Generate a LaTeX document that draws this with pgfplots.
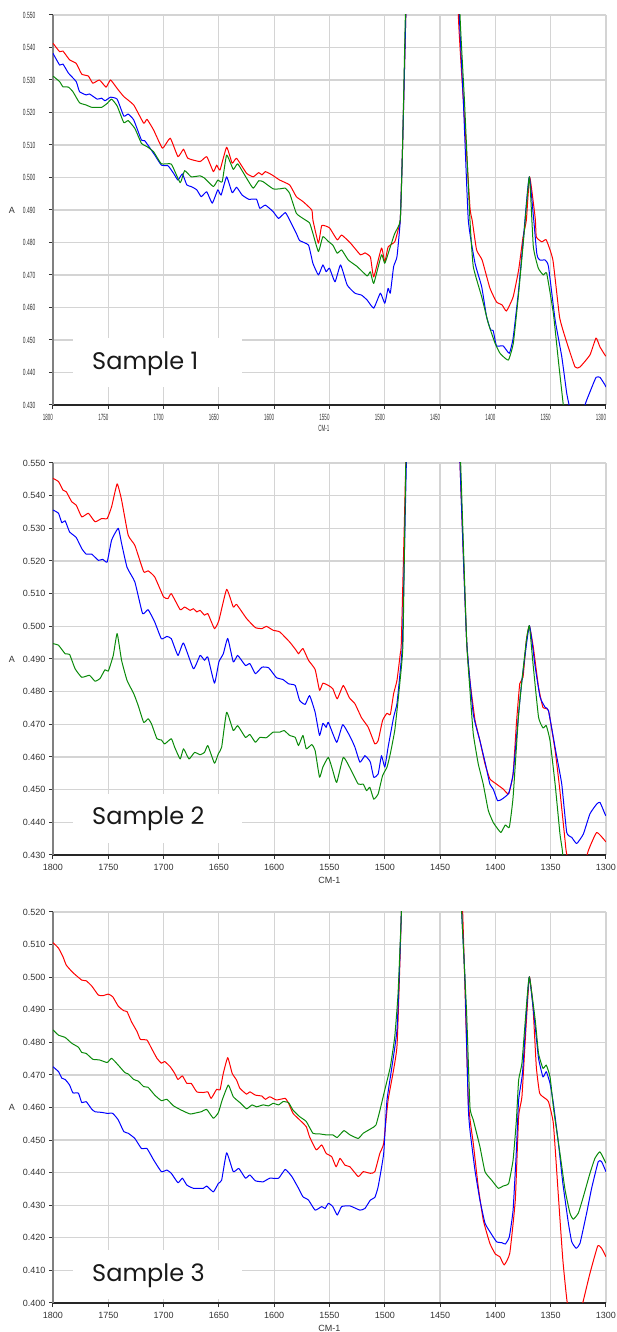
\documentclass[border=0pt]{standalone}
\usepackage{fontspec}
\setmainfont{Liberation Sans}
\newfontfamily\samplefont{Poppins}
\usepackage{graphicx}
\usepackage{pgfplots}
\pgfplotsset{compat=1.18}

\definecolor{gridc}{HTML}{D4D4D4}
\definecolor{spred}{HTML}{FF0000}
\definecolor{spblue}{HTML}{0000FF}
\definecolor{spgreen}{HTML}{0A8A0A}
\definecolor{labc}{HTML}{333333}

\pgfplotsset{
  irbase/.style={
    scale only axis, width=553pt, anchor=south west,
    xmin=1300, xmax=1800, x dir=reverse,
    xtick={1300,1350,...,1800},
    clip mode=individual,
    grid=major,
    major grid style={draw=gridc, line width=1.2pt},
    axis x line*=bottom, axis y line*=left,
    x axis line style={draw=black!85, line width=1.4pt, -},
    y axis line style={draw=black!50, line width=1.8pt, -},
    tick align=outside, major tick length=4pt,
    tick style={draw=black!80, line width=1pt},
    ticklabel style={font=\fontsize{9}{10}\selectfont, text=labc},
    xticklabel style={yshift=-2pt},
    /pgf/number format/assume math mode=true,
    /pgf/number format/1000 sep={},
    every axis plot/.append style={line width=1pt, line join=round, smooth, tension=0.25},
  },
  ylab3/.style={yticklabel style={/pgf/number format/fixed, /pgf/number format/fixed zerofill, /pgf/number format/precision=3}},
}

\newcommand{\samplestyle}{\samplefont\fontsize{24}{28}\selectfont}

\begin{document}
\begin{tikzpicture}
\useasboundingbox (0,0) rectangle (617pt,1332pt);

% ---------------- Panel 1 ----------------
\begin{axis}[irbase, at={(53pt,927pt)}, height=390pt,
  ymin=0.43, ymax=0.55,
  ytick={0.43,0.44,0.45,0.46,0.47,0.48,0.49,0.50,0.51,0.52,0.53,0.54,0.55},
  yticklabel={\makebox[22.5pt][l]{\scalebox{0.55}[1]{\pgfmathprintnumber[fixed,fixed zerofill,precision=3]{\tick}}}},
  xticklabel={\makebox[20pt][l]{\scalebox{0.5}[1]{\pgfmathprintnumber[1000 sep={}]{\tick}}}},
]
\node[fill=white, inner sep=0pt, minimum width=169pt, minimum height=49pt, anchor=south west, xshift=20pt, yshift=18pt] at (axis description cs:0,0) {};
\node[anchor=base west, inner sep=0pt, font=\samplestyle, text=black!90, xshift=39pt, yshift=35pt] at (axis description cs:0,0) {Sample 1};
\node[font=\fontsize{9}{10}\selectfont, text=labc, xshift=-41pt] at (axis description cs:0,0.5) {A};
\node[font=\fontsize{9}{10}\selectfont, text=labc, yshift=-23pt] at (axis description cs:0.5,0) {\makebox[22pt][l]{\scalebox{0.5}[1]{CM-1}}};

\addplot[spred] coordinates {(1800,0.5413)(1794,0.5387)(1791,0.5389)(1785,0.5362)(1779,0.5351)(1774,0.5318)(1768,0.5312)(1764,0.5290)(1758,0.5300)(1752,0.5278)(1748,0.5300)(1742,0.5274)(1736,0.5249)(1727,0.5223)(1718,0.5167)(1715,0.5179)(1709,0.5146)(1701,0.5090)(1694,0.5121)(1687,0.5064)(1682,0.5087)(1678,0.5059)(1667,0.5049)(1661,0.5064)(1655,0.5018)(1652,0.5038)(1649,0.5023)(1643,0.5093)(1638,0.5044)(1634,0.5059)(1625,0.5013)(1619,0.5002)(1614,0.5015)(1611,0.5008)(1608,0.5018)(1602,0.5008)(1595,0.4992)(1586,0.4977)(1580,0.4941)(1574,0.4926)(1566,0.4900)(1565,0.4869)(1560,0.4798)(1557,0.4852)(1550,0.4845)(1543,0.4808)(1539,0.4823)(1531,0.4798)(1522,0.4762)(1518,0.4768)(1513,0.4755)(1510,0.4694)(1503,0.4783)(1500,0.4740)(1497,0.4786)(1491,0.4802)(1488,0.4838)(1486,0.4869)(1484,0.5085)(1481,0.5500)(1478,0.6)(1436,0.6)(1433.5,0.5500)(1429,0.5238)(1423,0.4909)(1421,0.4869)(1417,0.4777)(1412,0.4746)(1405,0.4660)(1399,0.4617)(1394,0.4608)(1390,0.4589)(1384,0.4632)(1379,0.4715)(1375,0.4817)(1372,0.4869)(1369,0.5002)(1364,0.4875)(1363,0.4817)(1358,0.4802)(1354,0.4808)(1348,0.4746)(1342,0.4571)(1337,0.4509)(1328,0.4417)(1323.5,0.4417)(1314.5,0.4454)(1309,0.4506)(1305.5,0.4479)(1301,0.4454)(1300,0.4450)};
\addplot[spblue] coordinates {(1800,0.5382)(1794,0.5346)(1791,0.5349)(1786,0.5321)(1779,0.5295)(1776,0.5264)(1770,0.5254)(1767,0.5257)(1760,0.5241)(1756,0.5244)(1753,0.5236)(1748,0.5247)(1742,0.5241)(1736,0.5189)(1732,0.5195)(1727,0.5177)(1720,0.5115)(1717,0.5113)(1708,0.5069)(1702,0.5038)(1696,0.5036)(1691,0.5013)(1687,0.4992)(1683,0.5011)(1679,0.4977)(1675,0.4972)(1670,0.4962)(1666,0.4941)(1661,0.4956)(1656,0.4921)(1651,0.4962)(1648,0.4946)(1643,0.5002)(1638,0.4953)(1634,0.4970)(1629,0.4946)(1623,0.4933)(1616,0.4933)(1613,0.4905)(1608,0.4915)(1601,0.4895)(1596,0.4874)(1590,0.4892)(1586,0.4869)(1580,0.4828)(1577,0.4806)(1569,0.4792)(1565,0.4736)(1560,0.4700)(1556,0.4731)(1553,0.4710)(1550,0.4721)(1545,0.4679)(1540,0.4731)(1534,0.4669)(1527,0.4644)(1521,0.4638)(1516,0.4623)(1510,0.4598)(1504,0.4644)(1500,0.4613)(1497,0.4659)(1495,0.4644)(1492,0.4726)(1489,0.4756)(1486,0.4869)(1484,0.5085)(1481,0.5500)(1478,0.6)(1436,0.6)(1432.6,0.5500)(1429,0.5238)(1424.5,0.4869)(1418.4,0.4736)(1412.4,0.4664)(1408,0.4572)(1404.3,0.4531)(1402,0.4529)(1399,0.4482)(1393,0.4482)(1387.4,0.4459)(1384,0.4505)(1379.3,0.4644)(1374.8,0.4808)(1369.3,0.5002)(1362.6,0.4767)(1359.7,0.4746)(1355,0.4746)(1352,0.4726)(1346,0.4562)(1340,0.4449)(1335.5,0.4336)(1333,0.4295)(1326,0.4200)(1319,0.4300)(1314.4,0.4341)(1309,0.4385)(1305.4,0.4385)(1301,0.4362)(1300,0.4355)};
\addplot[spgreen] coordinates {(1800,0.5312)(1794,0.5295)(1791,0.5279)(1786,0.5278)(1782,0.5264)(1776,0.5230)(1770,0.5223)(1765,0.5216)(1756,0.5216)(1751,0.5228)(1747,0.5241)(1742,0.5220)(1736,0.5169)(1732,0.5175)(1726,0.5151)(1720,0.5105)(1715,0.5095)(1709,0.5079)(1702,0.5042)(1693,0.5041)(1685,0.4984)(1681,0.5021)(1675,0.5002)(1667,0.5005)(1663,0.4998)(1655,0.4972)(1651,0.4992)(1647,0.4987)(1643,0.5069)(1637,0.5025)(1633,0.5042)(1625,0.4998)(1619,0.4967)(1614,0.4990)(1610,0.4987)(1601,0.4965)(1595,0.4965)(1590,0.4967)(1586,0.4951)(1580,0.4890)(1574,0.4874)(1568,0.4860)(1565,0.4828)(1560,0.4772)(1556,0.4818)(1551,0.4803)(1547,0.4792)(1543,0.4767)(1539,0.4777)(1533,0.4746)(1525,0.4726)(1516,0.4697)(1513,0.4710)(1510,0.4674)(1503,0.4762)(1500,0.4736)(1495,0.4787)(1491,0.4828)(1486,0.4869)(1484,0.5085)(1481.4,0.5500)(1478,0.6)(1436,0.6)(1432,0.5500)(1428,0.5238)(1423,0.4869)(1420,0.4726)(1412.4,0.4633)(1406.4,0.4551)(1400.3,0.4490)(1395.8,0.4459)(1388.3,0.4438)(1383.8,0.4490)(1379.3,0.4633)(1374.8,0.4798)(1369.3,0.5002)(1365.7,0.4787)(1361.2,0.4721)(1356.7,0.4700)(1353.6,0.4705)(1347.6,0.4582)(1343.1,0.4438)(1338.6,0.4300)(1335,0.4200)(1300,0.4000)};
\end{axis}

% ---------------- Panel 2 ----------------
\begin{axis}[irbase, ylab3, at={(53pt,477pt)}, height=392pt,
  ymin=0.43, ymax=0.55,
  ytick={0.43,0.44,0.45,0.46,0.47,0.48,0.49,0.50,0.51,0.52,0.53,0.54,0.55},
]
\node[fill=white, inner sep=0pt, minimum width=169pt, minimum height=49pt, anchor=south west, xshift=20pt, yshift=12pt] at (axis description cs:0,0) {};
\node[anchor=base west, inner sep=0pt, font=\samplestyle, text=black!90, xshift=39pt, yshift=30pt] at (axis description cs:0,0) {Sample 2};
\node[font=\fontsize{9}{10}\selectfont, text=labc, xshift=-41pt] at (axis description cs:0,0.5) {A};
\node[font=\fontsize{9}{10}\selectfont, text=labc, yshift=-25pt] at (axis description cs:0.5,0) {CM-1};

\addplot[spred] coordinates {(1800,0.5453)(1795,0.5443)(1791,0.5417)(1788,0.5412)(1783,0.5381)(1779,0.5371)(1774,0.5335)(1768,0.5346)(1762,0.5320)(1756,0.5330)(1751,0.5330)(1747,0.5366)(1742,0.5436)(1738,0.5387)(1732,0.5279)(1726,0.5248)(1718,0.5167)(1714,0.5170)(1708,0.5151)(1700,0.5090)(1696,0.5085)(1693,0.5100)(1685,0.5051)(1681,0.5059)(1676,0.5049)(1673,0.5054)(1670,0.5044)(1667,0.5049)(1663,0.5034)(1660,0.5039)(1654,0.4993)(1650,0.5018)(1643,0.5113)(1637,0.5059)(1634,0.5067)(1625,0.5024)(1617,0.4996)(1611,0.4993)(1607,0.5000)(1601,0.4988)(1595,0.4983)(1586,0.4952)(1580,0.4926)(1578,0.4916)(1574,0.4932)(1569,0.4896)(1563,0.4868)(1559,0.4804)(1556,0.4826)(1551,0.4819)(1547,0.4809)(1543,0.4778)(1537.5,0.4819)(1532,0.4781)(1527,0.4763)(1521,0.4720)(1515,0.4691)(1509,0.4640)(1506,0.4650)(1502,0.4712)(1498,0.4734)(1495,0.4730)(1492,0.4794)(1489,0.4834)(1486,0.4916)(1485,0.4957)(1481,0.5500)(1478,0.6)(1436,0.6)(1432,0.5500)(1426,0.4957)(1423,0.4834)(1418.4,0.4712)(1414,0.4650)(1409.4,0.4579)(1405,0.4533)(1399,0.4517)(1393,0.4502)(1388,0.4487)(1384,0.4548)(1381,0.4702)(1378,0.4824)(1375,0.4844)(1372,0.4957)(1369.3,0.5002)(1365.7,0.4936)(1361,0.4814)(1357,0.4752)(1352,0.4742)(1346,0.4620)(1342,0.4507)(1337,0.4344)(1335.5,0.4303)(1326,0.4200)(1316,0.4313)(1308.4,0.4369)(1301,0.4344)(1300,0.4340)};
\addplot[spblue] coordinates {(1800,0.5356)(1795,0.5346)(1792,0.5317)(1789,0.5323)(1785,0.5289)(1779,0.5272)(1774,0.5238)(1770,0.5221)(1765,0.5221)(1759,0.5202)(1755,0.5205)(1751,0.5197)(1747,0.5264)(1741,0.5300)(1738,0.5254)(1733,0.5180)(1726,0.5136)(1719,0.5039)(1714,0.5051)(1708,0.5013)(1702,0.4962)(1697,0.4969)(1693,0.4962)(1687,0.4911)(1682,0.4949)(1673,0.4870)(1667,0.4911)(1663,0.4896)(1660,0.4906)(1654,0.4826)(1650,0.4891)(1646,0.4916)(1642,0.4963)(1637,0.4891)(1633,0.4911)(1626,0.4880)(1622,0.4886)(1617,0.4855)(1611,0.4875)(1605,0.4873)(1598,0.4843)(1592,0.4837)(1587,0.4824)(1581,0.4819)(1577,0.4773)(1572,0.4761)(1568,0.4788)(1563,0.4737)(1559,0.4666)(1556,0.4703)(1553,0.4691)(1551,0.4706)(1543.5,0.4645)(1538,0.4699)(1531,0.4660)(1527,0.4630)(1522.5,0.4584)(1518,0.4604)(1515,0.4594)(1513,0.4584)(1510,0.4538)(1506,0.4548)(1503,0.4604)(1500,0.4569)(1497,0.4630)(1492,0.4722)(1489,0.4763)(1486,0.4865)(1484,0.4957)(1480.5,0.5500)(1477,0.6)(1436,0.6)(1432,0.5500)(1426,0.4957)(1420,0.4732)(1414,0.4650)(1409,0.4579)(1405,0.4517)(1402,0.4502)(1398,0.4466)(1394,0.4471)(1388,0.4489)(1384,0.4548)(1379,0.4732)(1376,0.4834)(1369.3,0.5002)(1364,0.4875)(1359.6,0.4783)(1355,0.4752)(1352,0.4742)(1345,0.4610)(1340,0.4517)(1335.5,0.4369)(1331,0.4354)(1326.5,0.4335)(1320.5,0.4364)(1314.5,0.4426)(1308.4,0.4456)(1305.4,0.4461)(1301,0.4426)(1300,0.4420)};
\addplot[spgreen] coordinates {(1800,0.4947)(1795,0.4942)(1789,0.4916)(1785,0.4914)(1780,0.4870)(1774,0.4844)(1767,0.4850)(1762,0.4832)(1757.5,0.4840)(1753,0.4867)(1750,0.4863)(1745.5,0.4911)(1742,0.4978)(1738,0.4896)(1733,0.4834)(1727,0.4794)(1723,0.4758)(1718,0.4706)(1714,0.4717)(1711,0.4702)(1706,0.4656)(1702,0.4652)(1699,0.4640)(1693,0.4656)(1690,0.4630)(1685,0.4594)(1682,0.4625)(1677,0.4594)(1672,0.4614)(1667,0.4607)(1663,0.4614)(1660,0.4635)(1654,0.4581)(1650.5,0.4610)(1647.5,0.4630)(1643,0.4737)(1637,0.4681)(1633,0.4696)(1626,0.4660)(1622,0.4669)(1617,0.4645)(1613,0.4660)(1607,0.4659)(1601,0.4676)(1595,0.4676)(1591,0.4681)(1586,0.4666)(1581,0.4660)(1578,0.4635)(1574,0.4666)(1571,0.4625)(1566,0.4638)(1563,0.4620)(1559,0.4538)(1556,0.4569)(1551,0.4599)(1547,0.4558)(1543.5,0.4522)(1537.5,0.4599)(1531,0.4563)(1524,0.4517)(1519.5,0.4517)(1516.5,0.4497)(1513.5,0.4507)(1510,0.4471)(1506,0.4487)(1502,0.4543)(1498,0.4569)(1495,0.4610)(1491,0.4681)(1488,0.4773)(1485,0.4875)(1483.5,0.4957)(1481,0.5500)(1478,0.6)(1436,0.6)(1431.4,0.5500)(1426,0.4957)(1423,0.4804)(1420,0.4671)(1415.5,0.4579)(1411,0.4517)(1406.4,0.4436)(1402,0.4400)(1399,0.4385)(1395,0.4369)(1391,0.4392)(1387.4,0.4385)(1384,0.4477)(1379,0.4732)(1376,0.4834)(1372,0.4957)(1369.3,0.5002)(1366,0.4886)(1361,0.4722)(1357,0.4689)(1354,0.4696)(1350.6,0.4650)(1346,0.4517)(1341.6,0.4364)(1339.4,0.4313)(1336,0.4200)(1300,0.4000)};
\end{axis}

% ---------------- Panel 3 ----------------
\begin{axis}[irbase, ylab3, at={(53pt,29pt)}, height=391pt,
  ymin=0.40, ymax=0.52,
  ytick={0.40,0.41,0.42,0.43,0.44,0.45,0.46,0.47,0.48,0.49,0.50,0.51,0.52},
]
\node[fill=white, inner sep=0pt, minimum width=169pt, minimum height=49pt, anchor=south west, xshift=20pt, yshift=4pt] at (axis description cs:0,0) {};
\node[anchor=base west, inner sep=0pt, font=\samplestyle, text=black!90, xshift=39pt, yshift=21pt] at (axis description cs:0,0) {Sample 3};
\node[font=\fontsize{9}{10}\selectfont, text=labc, xshift=-41pt] at (axis description cs:0,0.5) {A};
\node[font=\fontsize{9}{10}\selectfont, text=labc, yshift=-25pt] at (axis description cs:0.5,0) {CM-1};

\addplot[spred] coordinates {(1800,0.5106)(1795,0.5089)(1791,0.5063)(1788,0.5037)(1782,0.5014)(1774,0.4991)(1770,0.4989)(1765,0.4973)(1759,0.4945)(1755,0.4943)(1750,0.4948)(1746,0.4940)(1741,0.4911)(1736,0.4897)(1733,0.4894)(1729,0.4863)(1724,0.4833)(1721,0.4809)(1715,0.4807)(1711,0.4782)(1706,0.4751)(1702,0.4736)(1699,0.4741)(1694,0.4725)(1690,0.4705)(1687,0.4686)(1683,0.4697)(1679,0.4674)(1675,0.4674)(1670,0.4648)(1664,0.4646)(1660,0.4648)(1657,0.4628)(1652,0.4656)(1649,0.4654)(1646,0.4705)(1642,0.4753)(1638,0.4705)(1634,0.4684)(1631,0.4659)(1625,0.4641)(1622,0.4648)(1617,0.4638)(1611,0.4635)(1608,0.4625)(1604,0.4633)(1598,0.4623)(1590,0.4628)(1587,0.4613)(1583,0.4582)(1577,0.4562)(1571,0.4541)(1568,0.4510)(1562,0.4470)(1557,0.4485)(1553,0.4459)(1548,0.4449)(1544,0.4418)(1540.5,0.4444)(1536,0.4423)(1531.5,0.4418)(1524,0.4388)(1519.5,0.4403)(1513,0.4398)(1509,0.4403)(1504.5,0.4459)(1501,0.4490)(1497,0.4623)(1489,0.4787)(1485,0.5200)(1482,0.56)(1436,0.56)(1429.6,0.5200)(1424.5,0.4623)(1420,0.4490)(1415.5,0.4357)(1411,0.4255)(1405,0.4183)(1400,0.4150)(1396,0.4142)(1392,0.4117)(1387,0.4153)(1382,0.4316)(1379,0.4572)(1376,0.4633)(1373,0.4807)(1369.3,0.5001)(1366,0.4909)(1363,0.4725)(1360,0.4644)(1355,0.4628)(1352,0.4618)(1347.6,0.4551)(1343,0.4326)(1339,0.4132)(1335,0.4000)(1328,0.3900)(1321,0.4000)(1314.5,0.4091)(1307.5,0.4175)(1304,0.4168)(1300,0.4142)};
\addplot[spblue] coordinates {(1800,0.4725)(1795,0.4710)(1792,0.4690)(1789,0.4686)(1785,0.4669)(1782,0.4645)(1777,0.4644)(1774,0.4615)(1770,0.4618)(1765,0.4595)(1762,0.4587)(1756,0.4585)(1751,0.4582)(1746,0.4582)(1741,0.4562)(1736,0.4526)(1732,0.4521)(1726,0.4505)(1720,0.4474)(1715,0.4474)(1709,0.4439)(1702,0.4403)(1697,0.4408)(1693,0.4398)(1687,0.4369)(1683,0.4383)(1679,0.4362)(1673,0.4352)(1664,0.4352)(1661,0.4359)(1655,0.4341)(1650.5,0.4367)(1647.5,0.4377)(1643,0.4461)(1637,0.4403)(1632,0.4413)(1626,0.4383)(1622,0.4393)(1617,0.4375)(1610,0.4372)(1604,0.4383)(1596,0.4383)(1590,0.4410)(1584,0.4388)(1578,0.4352)(1574,0.4326)(1569,0.4316)(1563,0.4285)(1557,0.4296)(1554,0.4290)(1551,0.4306)(1547,0.4296)(1543,0.4270)(1539,0.4296)(1531.5,0.4298)(1522.5,0.4285)(1518,0.4290)(1513,0.4316)(1509,0.4324)(1506,0.4357)(1501,0.4459)(1498,0.4623)(1489,0.4838)(1485,0.5200)(1482,0.56)(1436,0.56)(1430.5,0.5200)(1427.5,0.4991)(1424.5,0.4602)(1423,0.4531)(1418.5,0.4408)(1414,0.4316)(1409.4,0.4245)(1405,0.4219)(1399,0.4188)(1394,0.4185)(1391,0.4181)(1387.4,0.4203)(1384,0.4285)(1381,0.4470)(1379,0.4623)(1375.5,0.4705)(1372,0.4889)(1369.3,0.5001)(1364,0.4848)(1361,0.4751)(1357,0.4694)(1354,0.4710)(1350.6,0.4674)(1347.6,0.4613)(1343,0.4490)(1339,0.4367)(1334,0.4245)(1331,0.4188)(1327,0.4168)(1323.5,0.4183)(1317.5,0.4276)(1313,0.4352)(1307,0.4434)(1304,0.4434)(1300,0.4403)};
\addplot[spgreen] coordinates {(1800,0.4838)(1795,0.4822)(1789,0.4815)(1783,0.4797)(1777,0.4785)(1774,0.4769)(1770,0.4766)(1764,0.4748)(1758,0.4746)(1751,0.4738)(1747,0.4751)(1741,0.4730)(1735,0.4707)(1732,0.4703)(1727,0.4686)(1723,0.4681)(1718,0.4664)(1714,0.4662)(1708,0.4638)(1702,0.4621)(1697,0.4625)(1691,0.4605)(1684,0.4592)(1676,0.4580)(1670,0.4584)(1666,0.4587)(1661,0.4594)(1655,0.4567)(1650.5,0.4584)(1647,0.4623)(1641.5,0.4669)(1637,0.4633)(1631,0.4615)(1625,0.4596)(1620,0.4608)(1616,0.4602)(1610,0.4608)(1605,0.4605)(1601,0.4613)(1596,0.4608)(1592,0.4618)(1587,0.4615)(1583,0.4592)(1577,0.4572)(1571,0.4557)(1565,0.4521)(1559,0.4519)(1553,0.4516)(1547,0.4516)(1543,0.4508)(1537,0.4529)(1531.5,0.4516)(1524,0.4505)(1519.5,0.4521)(1512,0.4536)(1508,0.4546)(1504.5,0.4590)(1500,0.4654)(1495,0.4725)(1491,0.4817)(1488,0.4950)(1485,0.5200)(1482,0.56)(1436,0.56)(1430.5,0.5200)(1426,0.4889)(1423,0.4602)(1420,0.4562)(1414,0.4480)(1409.4,0.4403)(1403.4,0.4377)(1397.4,0.4352)(1393,0.4359)(1388,0.4367)(1384,0.4439)(1381,0.4562)(1379,0.4684)(1376,0.4736)(1372,0.4909)(1369.3,0.5001)(1364,0.4869)(1361,0.4766)(1357,0.4720)(1354,0.4730)(1350.6,0.4694)(1347.6,0.4602)(1346,0.4562)(1341.6,0.4459)(1337,0.4347)(1332.6,0.4276)(1329.6,0.4257)(1325,0.4276)(1320.5,0.4326)(1314.5,0.4398)(1310,0.4444)(1305.5,0.4464)(1300,0.4429)};
\end{axis}
\end{tikzpicture}
\end{document}
